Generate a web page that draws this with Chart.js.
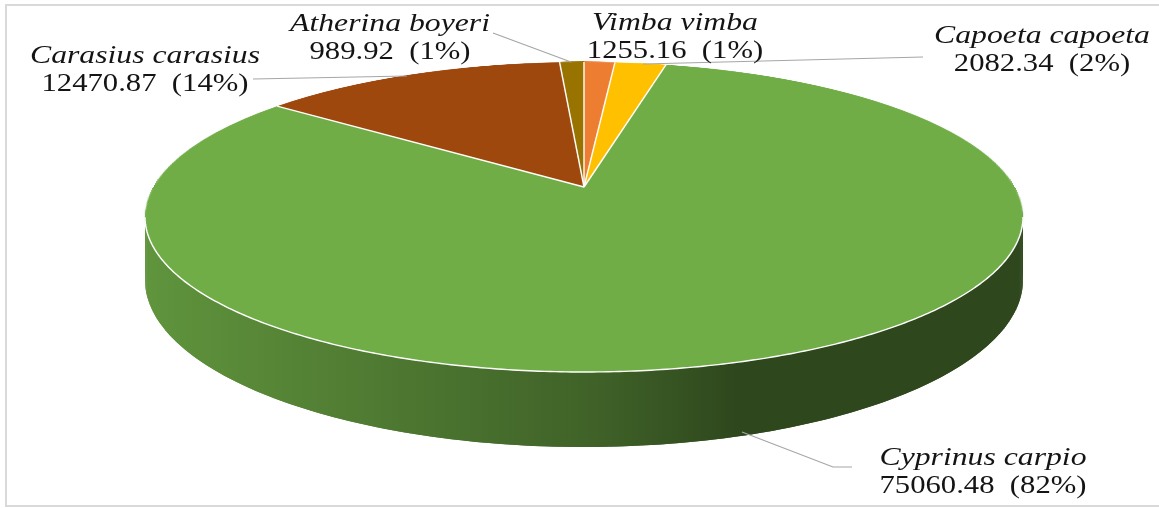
<!DOCTYPE html>
<html>
<head>
<meta charset="utf-8">
<script src="https://cdn.jsdelivr.net/npm/chart.js@4.4.0/dist/chart.umd.min.js"></script>
<style>
body { margin: 0; background: #fff; }
canvas { display: block; }
</style>
</head>
<body>
<canvas id="catch_chart" width="1159" height="508"></canvas>
<script>
var species = ['Vimba vimba', 'Capoeta capoeta', 'Cyprinus carpio', 'Carasius carasius', 'Atherina boyeri'];
var catchKg = [1255.16, 2082.34, 75060.48, 12470.87, 989.92];
var sliceColors = ['#ED7D31', '#FFC000', '#70AD47', '#9E480E', '#997300'];

// label placement: centre x, baseline of the name line, leader polyline
var labelX = [675, 1042, 983, 145, 390];
var labelY = [30, 43, 465, 63, 31];
var leaders = [
	null,
	[[643, 64], [923, 57]],
	[[742, 432], [833, 467], [852, 467]],
	[[253, 79], [407, 76]],
	[[493, 33], [571, 62]]
];

// tilted disc: half width, half height, perspective, wall height
var A = 430.7, B = 149.2, P = 0.1935, D = 60.5;
var OFF = 450;

function shade(hex, f){
	var n = parseInt(hex.slice(1), 16);
	var r = Math.round(((n >> 16) & 255) * f);
	var g = Math.round(((n >> 8) & 255) * f);
	var b = Math.round((n & 255) * f);
	return 'rgb(' + r + ',' + g + ',' + b + ')';
}

// point on the rim for canvas angle a, dropped by h (0 = top rim)
function rim(cx, cy, a, h){
	var v = Math.sin(a), s = 1 / (1 - P * v);
	return [cx + A * Math.cos(a) * s, cy + (B * v + h) * s];
}

var tilt = {
	id: 'tilt',
	beforeDatasetsDraw: function(chart){
		var ctx = chart.ctx;
		var arcs = chart.getDatasetMeta(0).data;
		var cx = arcs[0].x, cy = arcs[0].y, r = arcs[0].outerRadius;
		var edge = Math.asin(P);	// widest point of the rim

		// side wall, only the part facing us
		arcs.forEach(function(arc, i){
			var grad = ctx.createLinearGradient(cx - A, 0, cx + A, 0);
			grad.addColorStop(0, shade(sliceColors[i], 0.85));
			grad.addColorStop(0.52, shade(sliceColors[i], 0.56));
			grad.addColorStop(0.68, shade(sliceColors[i], 0.41));
			grad.addColorStop(1, shade(sliceColors[i], 0.41));
			ctx.fillStyle = grad;
			for(var k = -1; k <= 1; k++){
				var a0 = Math.max(arc.startAngle, edge - 0.05 + 2 * Math.PI * k);
				var a1 = Math.min(arc.endAngle, Math.PI - edge + 0.05 + 2 * Math.PI * k);
				if(a1 <= a0) continue;
				var step = 0.01;
				for(var a = a0; a < a1; a += step){
					var b = Math.min(a + step * 2, a1);
					var p1 = rim(cx, cy, a, 0), p2 = rim(cx, cy, b, 0);
					var p3 = rim(cx, cy, b, D), p4 = rim(cx, cy, a, D);
					ctx.beginPath();
					ctx.moveTo(p1[0], p1[1]);
					ctx.lineTo(p2[0], p2[1]);
					ctx.lineTo(p3[0], p3[1]);
					ctx.lineTo(p4[0], p4[1]);
					ctx.closePath();
					ctx.fill();
				}
			}
		});

		// top face: arcs drawn flat on a spare canvas, laid down row by row
		var off = document.createElement('canvas');
		off.width = off.height = 2 * OFF;
		var octx = off.getContext('2d');
		octx.translate(OFF, OFF);
		octx.scale(OFF / r, OFF / r);
		octx.translate(-cx, -cy);
		arcs.forEach(function(arc){ arc.draw(octx); });

		function toV(dy){ return dy / (B + P * dy); }
		var yTop = cy - B / (1 + P), yBot = cy + B / (1 - P);
		ctx.save();
		ctx.imageSmoothingQuality = 'high';
		for(var y = Math.floor(yTop); y < Math.ceil(yBot); y++){
			var v0 = Math.max(-1, toV(y - cy)), v1 = Math.min(1, toV(y + 1 - cy));
			if(v1 <= v0) continue;
			var s = 1 / (1 - P * (v0 + v1) / 2);
			ctx.drawImage(off, 0, OFF + v0 * OFF, 2 * OFF, (v1 - v0) * OFF,
				cx - A * s, y, 2 * A * s, 1);
		}
		ctx.restore();

		// white seams between slices and along the front edge
		ctx.save();
		ctx.strokeStyle = '#ffffff';
		ctx.lineWidth = 1.4;
		arcs.forEach(function(arc){
			var p = rim(cx, cy, arc.startAngle, 0);
			ctx.beginPath();
			ctx.moveTo(cx, cy);
			ctx.lineTo(p[0], p[1]);
			ctx.stroke();
		});
		ctx.beginPath();
		var first = true;
		for(var a = edge; a <= Math.PI - edge; a += 0.01){
			var q = rim(cx, cy, a, 0);
			if(first){ ctx.moveTo(q[0], q[1]); first = false; }
			else ctx.lineTo(q[0], q[1]);
		}
		ctx.stroke();
		ctx.restore();
		return false;
	},
	afterDraw: function(chart){
		var ctx = chart.ctx;
		var total = catchKg.reduce(function(s, v){ return s + v; }, 0);
		ctx.save();

		ctx.strokeStyle = '#d9d9d9';
		ctx.lineWidth = 2;
		ctx.strokeRect(6, 5, 1160, 501);

		ctx.strokeStyle = '#a6a6a6';
		ctx.lineWidth = 1.2;
		leaders.forEach(function(pts){
			if(!pts) return;
			ctx.beginPath();
			ctx.moveTo(pts[0][0], pts[0][1]);
			for(var j = 1; j < pts.length; j++) ctx.lineTo(pts[j][0], pts[j][1]);
			ctx.stroke();
		});

		ctx.fillStyle = '#141414';
		ctx.textAlign = 'center';
		ctx.textBaseline = 'alphabetic';
		for(var i in species){
			var pct = Math.round(catchKg[i] / total * 100);
			ctx.save();
			ctx.translate(labelX[i], 0);
			ctx.scale(1.22, 1);
			ctx.font = 'italic 26px "Liberation Serif"';
			ctx.fillText(species[i], 0, labelY[i]);
			ctx.restore();
			ctx.save();
			ctx.translate(labelX[i], 0);
			ctx.scale(1.18, 1);
			ctx.font = '26px "Liberation Serif"';
			ctx.fillText(catchKg[i].toFixed(2) + '  (' + pct + '%)', 0, labelY[i] + 28);
			ctx.restore();
		}
		ctx.restore();
	}
};

var chart = new Chart(document.getElementById('catch_chart'), {
	type: 'pie',
	data: {
		labels: species,
		datasets: [{
			data: catchKg,
			backgroundColor: sliceColors,
			borderWidth: 0,
			clip: false
		}]
	},
	options: {
		responsive: false,
		animation: false,
		events: [],
		layout: { padding: { left: 19, right: 10, top: 10, bottom: 144 } },
		plugins: {
			legend: { display: false },
			tooltip: { enabled: false }
		}
	},
	plugins: [tilt]
});
</script>
</body>
</html>
